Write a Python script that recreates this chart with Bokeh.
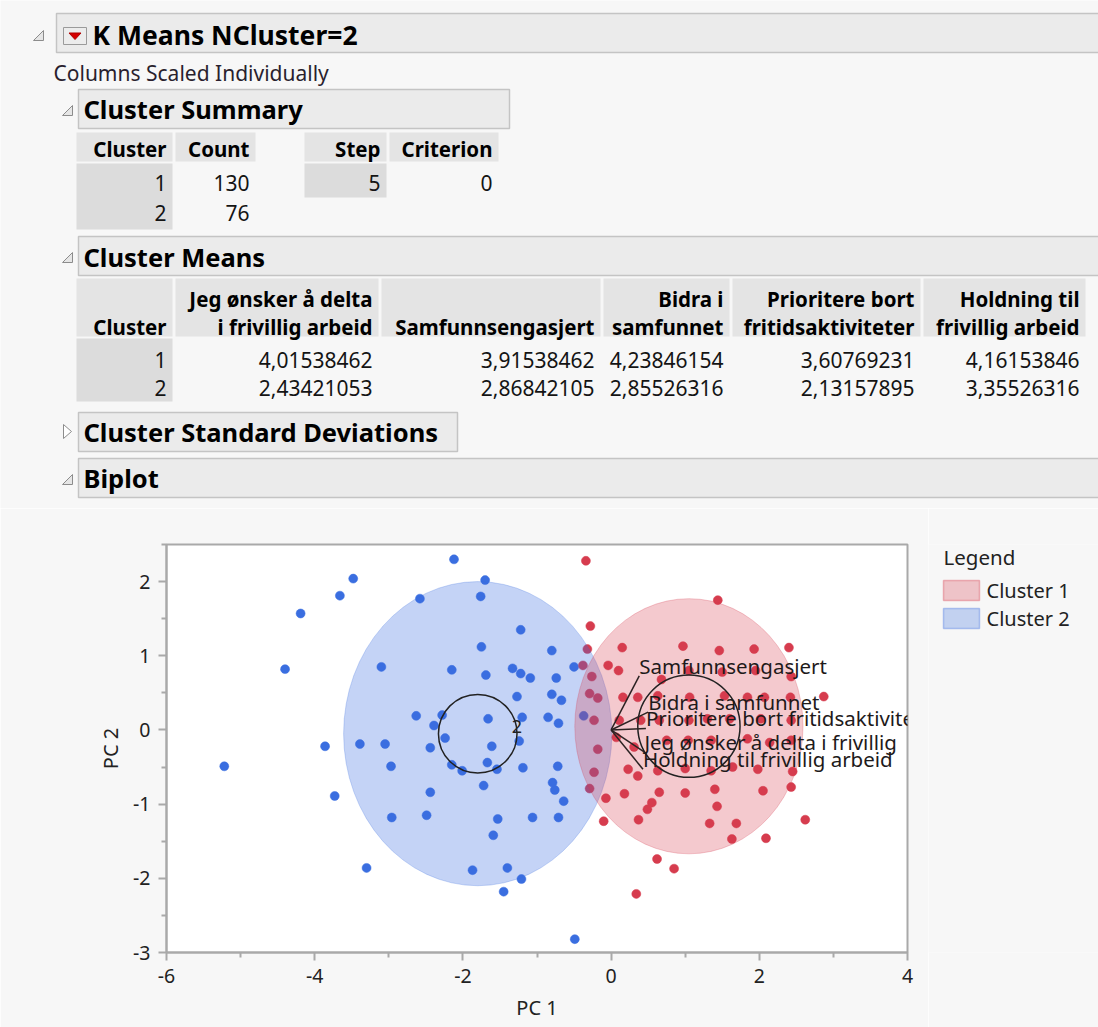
from bokeh.plotting import figure
from bokeh.layouts import column, row
from bokeh.models import Range1d, FixedTicker
from bokeh.embed import file_html
from bokeh.resources import INLINE
from bokeh.core.properties import value

FONT = "Noto Sans"
BG = "#f7f7f7"
BAR_FILL = "#ebebeb"
BAR_LINE = "#c4c4c4"
HEAD_FILL = "#e4e4e4"
ROWLAB_FILL = "#dcdcdc"
RED = "#d63c4e"
BLUE = "#3a6ee0"

# ---------------- report data ----------------
report_title = "K Means NCluster=2"
report_note = "Columns Scaled Individually"
section_titles = ["Cluster Summary", "Cluster Means", "Cluster Standard Deviations", "Biplot"]

summary_headers = ["Cluster", "Count"]
summary_clusters = ["1", "2"]
summary_counts = ["130", "76"]
step_headers = ["Step", "Criterion"]
step_values = ["5"]
criterion_values = ["0"]

means_header_line1 = ["", "Jeg ønsker å delta", "", "Bidra i", "Prioritere bort", "Holdning til"]
means_header_line2 = ["Cluster", "i frivillig arbeid", "Samfunnsengasjert", "samfunnet",
                      "fritidsaktiviteter", "frivillig arbeid"]
means_clusters = ["1", "2"]
means_cluster1 = ["4,01538462", "3,91538462", "4,23846154", "3,60769231", "4,16153846"]
means_cluster2 = ["2,43421053", "2,86842105", "2,85526316", "2,13157895", "3,35526316"]

# ---------------- biplot data ----------------
c1_pc1 = [-0.34, 1.44, -0.28, -0.32, 0.15, 0.97, 1.46, 1.93, 2.40, -0.38, -0.04, 0.10, -0.26,
          0.68, 2.43, -0.29, -0.18, 0.16, 0.63, 1.06, 1.53, 2.07, 2.42, 2.87, -0.23, 0.11, 0.65,
          1.60, 2.02, 2.43, 0.07, 0.31, 1.04, 1.84, 2.14, 2.43, -0.18, 0.23, 0.36, 0.63, 1.64,
          1.98, 2.45, -0.23, 2.43, 0.18, 0.65, -0.07, -0.29, 0.55, 0.49, -0.10, 0.37, 1.43, 1.33,
          1.69, 1.63, 2.09, 2.62, 0.62, 0.85, 0.34, 0.36, 1.84, 0.40, 1.05, 1.30, 0.75, 1.35,
          1.00, 1.35, 1.05, 1.50, 1.95, 1.00, 1.40, 2.05]
c1_pc2 = [2.28, 1.75, 1.40, 1.09, 1.11, 1.13, 1.07, 1.09, 1.11, 0.87, 0.87, 0.80, 0.72,
          0.68, 0.72, 0.49, 0.43, 0.44, 0.46, 0.44, 0.46, 0.44, 0.44, 0.45, 0.13, 0.13, 0.13,
          0.15, 0.15, 0.13, -0.10, -0.23, -0.14, -0.12, -0.17, -0.14, -0.26, -0.53, -0.62, -0.55, -0.50,
          -0.53, -0.56, -0.57, -0.77, -0.86, -0.84, -0.92, -0.79, -0.98, -1.07, -1.23, -1.21, -1.03, -1.26,
          -1.26, -1.47, -1.46, -1.21, -1.74, -1.87, -2.21, 0.44, 0.44, 0.13, 0.13, 0.15, -0.14, -0.14,
          -0.52, -0.55, 0.80, 0.78, 0.80, -0.85, -0.80, -0.82]

c2_pc1 = [-2.12, -3.48, -1.70, -3.66, -2.58, -1.76, -4.19, -1.22, -1.75, -0.80, -4.40, -3.10, -2.15,
          -1.69, -1.33, -1.22, -1.09, -0.74, -0.50, -1.27, -0.80, -0.67, -2.63, -2.28, -2.39, -1.66,
          -1.20, -0.85, -0.71, -0.37, -2.24, -1.24, -3.86, -3.39, -3.05, -2.44, -1.61, -5.22, -2.97,
          -2.15, -2.01, -1.67, -1.54, -1.19, -0.72, -3.73, -2.44, -1.72, -0.79, -0.76, -0.64, -2.96,
          -2.49, -1.53, -1.06, -0.71, -1.59, -3.30, -1.87, -1.40, -1.21, -1.45, -0.49]
c2_pc2 = [2.30, 2.04, 2.02, 1.81, 1.77, 1.80, 1.57, 1.35, 1.12, 1.07, 0.82, 0.85, 0.81,
          0.74, 0.83, 0.76, 0.70, 0.70, 0.85, 0.45, 0.48, 0.40, 0.19, 0.20, 0.06, 0.15,
          0.17, 0.17, 0.09, 0.19, -0.11, -0.15, -0.22, -0.19, -0.19, -0.24, -0.22, -0.49, -0.49,
          -0.47, -0.55, -0.44, -0.53, -0.51, -0.49, -0.89, -0.84, -0.75, -0.71, -0.81, -0.96, -1.18,
          -1.15, -1.20, -1.18, -1.18, -1.42, -1.86, -1.89, -1.86, -2.01, -2.18, -2.82]

cluster_names = ["Cluster 1", "Cluster 2"]
cluster_labels = ["1", "2"]
ellipse_x = [1.05, -1.80]
ellipse_y = [0.05, -0.05]
ellipse_w = [3.08, 3.62]
ellipse_h = [3.44, 4.10]
mean_circle_r = [0.69, 0.53]

# variable labels as they show inside the plot frame
var_labels = ["Samfunnsengasjert", "Bidra i samfunnet", "Prioritere bort fritidsaktivite",
              "Jeg ønsker å delta i frivillig", "Holdning til frivillig arbeid"]
load_pc1 = [0.38, 0.50, 0.47, 0.45, 0.43]
load_pc2 = [0.73, 0.24, 0.02, -0.30, -0.53]

x_ticks = [-6, -4, -2, 0, 2, 4]
x_tick_labels = ["-6", "-4", "-2", "0", "2", "4"]
x_minor = [-5, -3, -1, 1, 3]
y_ticks = [-3, -2, -1, 0, 1, 2]
y_tick_labels = ["-3", "-2", "-1", "0", "1", "2"]
y_minor = [-2.5, -1.5, -0.5, 0.5, 1.5, 2.5]

TOP_H = 508
PAGE_W = 1098
PAGE_H = 1027

# ================= report header figure (pixel coordinates) =================
top = figure(width=PAGE_W, height=TOP_H, x_range=Range1d(0, PAGE_W), y_range=Range1d(TOP_H, 0),
             output_backend="svg", toolbar_location=None, x_axis_type=None, y_axis_type=None,
             min_border=0, background_fill_color=BG, border_fill_color=BG, outline_line_color=None)
top.grid.visible = False


def txt(fig, x, y, s, size, bold=False, align="left", color="#141414", baseline="middle"):
    fig.text(x=[x], y=[y], text=[s], text_font=value(FONT), text_font_size=f"{size}px",
             text_font_style="bold" if bold else "normal", text_align=align,
             text_baseline=baseline, text_color=color)


def box(fig, l, r, t, b, fill, line=None, lw=1.0):
    fig.quad(left=[l], right=[r], top=[t], bottom=[b], fill_color=fill,
             line_color=line, line_width=lw)


def open_tri(fig, x, y):
    fig.patch(x=[x - 5, x + 5, x + 5], y=[y + 5, y + 5, y - 5], fill_color="#e6e6e6",
              line_color="#8c8c8c", line_width=1)


def closed_tri(fig, x, y):
    fig.patch(x=[x - 4, x + 4, x - 4], y=[y - 7, y, y + 7], fill_color="#ffffff",
              line_color="#8c8c8c", line_width=1)


HDR = 20.5
VAL = 21
SEC = 25.5

# main header
box(top, 56, 1110, 13, 52, BAR_FILL, BAR_LINE, 1.5)
open_tri(top, 38, 35)
box(top, 63, 86, 27, 44, "#ececec", "#9a9a9a", 1)
top.patch(x=[68.5, 80.5, 74.5], y=[32.5, 32.5, 39], fill_color="#d40000", line_color="#b00000")
txt(top, 92, 34, report_title, 26.5, bold=True, color="#000000")
txt(top, 53, 72, report_note, 21, color="#2a1f2e")

# cluster summary
box(top, 78, 509, 89, 128, BAR_FILL, BAR_LINE, 1.5)
open_tri(top, 67, 110)
txt(top, 83, 108, section_titles[0], SEC, bold=True, color="#000000")
sum_cols = [(76, 172), (175, 255)]
step_cols = [(304, 386), (389, 498)]
for (l, r), h in zip(sum_cols, summary_headers):
    box(top, l, r, 132, 161, HEAD_FILL)
    txt(top, r - 6, 148, h, HDR, bold=True, align="right", color="#000000")
for (l, r), h in zip(step_cols, step_headers):
    box(top, l, r, 132, 161, HEAD_FILL)
    txt(top, r - 6, 148, h, HDR, bold=True, align="right", color="#000000")
box(top, 76, 172, 163, 229, ROWLAB_FILL)
box(top, 304, 386, 163, 197, ROWLAB_FILL)
for i, yy in enumerate([182, 212]):
    txt(top, 166, yy, summary_clusters[i], VAL, align="right")
    txt(top, 249, yy, summary_counts[i], VAL, align="right")
txt(top, 380, 182, step_values[0], VAL, align="right")
txt(top, 492, 182, criterion_values[0], VAL, align="right")

# cluster means
box(top, 78, 1110, 236, 275, BAR_FILL, BAR_LINE, 1.5)
open_tri(top, 67, 257)
txt(top, 83, 256, section_titles[1], SEC, bold=True, color="#000000")
mean_cols = [(76, 172), (175, 378), (381, 600), (603, 729), (732, 920), (923, 1085)]
for j, (l, r) in enumerate(mean_cols):
    box(top, l, r, 278, 336, HEAD_FILL)
    if means_header_line1[j]:
        txt(top, r - 6, 298, means_header_line1[j], HDR, bold=True, align="right", color="#000000")
    txt(top, r - 6, 326, means_header_line2[j], HDR, bold=True, align="right", color="#000000")
box(top, 76, 172, 338, 401, ROWLAB_FILL)
for i, (yy, vals) in enumerate([(359, means_cluster1), (387, means_cluster2)]):
    txt(top, 166, yy, means_clusters[i], VAL, align="right")
    for j, v in enumerate(vals):
        txt(top, mean_cols[j + 1][1] - 6, yy, v, VAL, align="right")

# cluster standard deviations (closed)
box(top, 78, 457, 412, 451, BAR_FILL, BAR_LINE, 1.5)
closed_tri(top, 67, 431)
txt(top, 83, 431, section_titles[2], SEC, bold=True, color="#000000")

# biplot header
box(top, 78, 1110, 458, 497, BAR_FILL, BAR_LINE, 1.5)
open_tri(top, 67, 479)
txt(top, 83, 477, section_titles[3], SEC, bold=True, color="#000000")

# ================= biplot =================
BP_W = 928
BOT_H = PAGE_H - TOP_H
B_TOP, B_BOT = 36, 75
bp = figure(width=BP_W, height=BOT_H, x_range=Range1d(-6, 4), y_range=Range1d(-3, 2.5),
            output_backend="svg", toolbar_location=None,
            min_border_left=166, min_border_right=21, min_border_top=B_TOP, min_border_bottom=B_BOT,
            background_fill_color="#ffffff", border_fill_color=BG,
            outline_line_color="#a9a9a9", outline_line_width=2,
            x_axis_label="PC 1", y_axis_label="PC 2")
bp.grid.visible = False

bp.xaxis.ticker = FixedTicker(ticks=x_ticks, minor_ticks=x_minor)
bp.yaxis.ticker = FixedTicker(ticks=y_ticks, minor_ticks=y_minor)
bp.xaxis.major_label_overrides = dict(zip(x_ticks, x_tick_labels))
bp.yaxis.major_label_overrides = dict(zip(y_ticks, y_tick_labels))
for ax in (bp.xaxis[0], bp.yaxis[0]):
    ax.axis_line_color = "#a9a9a9"
    ax.axis_line_width = 2
    ax.major_tick_line_color = "#a9a9a9"
    ax.major_tick_line_width = 2
    ax.minor_tick_line_color = "#a9a9a9"
    ax.minor_tick_line_width = 2
    ax.major_tick_out = 8
    ax.major_tick_in = 0
    ax.minor_tick_out = 5
    ax.minor_tick_in = 0
    ax.major_label_text_font = FONT
    ax.major_label_text_font_size = "19.5px"
    ax.major_label_text_color = "#222222"
    ax.major_label_standoff = 8
    ax.axis_label_text_font = FONT
    ax.axis_label_text_font_size = "20px"
    ax.axis_label_text_font_style = "normal"
    ax.axis_label_text_color = "#222222"
bp.xaxis.axis_label_standoff = 8
bp.yaxis.axis_label_standoff = 6

bp.scatter(x=c2_pc1, y=c2_pc2, size=9, fill_color=BLUE, line_color=BLUE, line_width=0.5)
bp.scatter(x=c1_pc1, y=c1_pc2, size=9, fill_color=RED, line_color=RED, line_width=0.5)

bp.ellipse(x=ellipse_x[1:], y=ellipse_y[1:], width=ellipse_w[1:], height=ellipse_h[1:],
           fill_color=BLUE, fill_alpha=0.3, line_color=BLUE, line_alpha=0.25)
bp.ellipse(x=ellipse_x[:1], y=ellipse_y[:1], width=ellipse_w[:1], height=ellipse_h[:1],
           fill_color=RED, fill_alpha=0.28, line_color=RED, line_alpha=0.25)

bp.circle(x=ellipse_x, y=ellipse_y, radius=mean_circle_r, fill_color=None,
          line_color="#222222", line_width=1.5)
bp.text(x=[ellipse_x[1] + mean_circle_r[1]], y=[ellipse_y[1] + 0.1], text=[cluster_labels[1]],
        text_font=value(FONT), text_font_size="18px", text_align="center",
        text_baseline="middle", text_color="#222222")

bp.segment(x0=[0] * len(load_pc1), y0=[0] * len(load_pc2), x1=load_pc1, y1=load_pc2,
           line_color="#2b2222", line_width=1.5)
bp.text(x=load_pc1, y=load_pc2, text=var_labels, text_font=value(FONT), text_font_size="20.5px",
        text_align="left", text_baseline="bottom", text_color="#1e1a1a", y_offset=4)

# ================= legend panel (frame aligned with the biplot's frame) =================
leg = figure(width=PAGE_W - BP_W, height=BOT_H, x_range=Range1d(BP_W, PAGE_W),
             y_range=Range1d(TOP_H + BOT_H - B_BOT, TOP_H + B_TOP),
             output_backend="svg", toolbar_location=None, x_axis_type=None, y_axis_type=None,
             min_border_left=0, min_border_right=0, min_border_top=B_TOP, min_border_bottom=B_BOT,
             background_fill_color=BG, border_fill_color=BG, outline_line_color=None)
leg.grid.visible = False
txt(leg, 943, 556, "Legend", 20.5, color="#222222")
for i, (yc, col) in enumerate([(590, RED), (618, BLUE)]):
    leg.quad(left=[943], right=[979], top=[yc - 10], bottom=[yc + 10], fill_color=col,
             fill_alpha=0.28, line_color=col, line_alpha=0.35, line_width=1.5)
    txt(leg, 986, yc, cluster_names[i], 20, color="#222222")

layout = column(top, row(bp, leg))
open("out.html", "w").write(file_html(layout, INLINE))
